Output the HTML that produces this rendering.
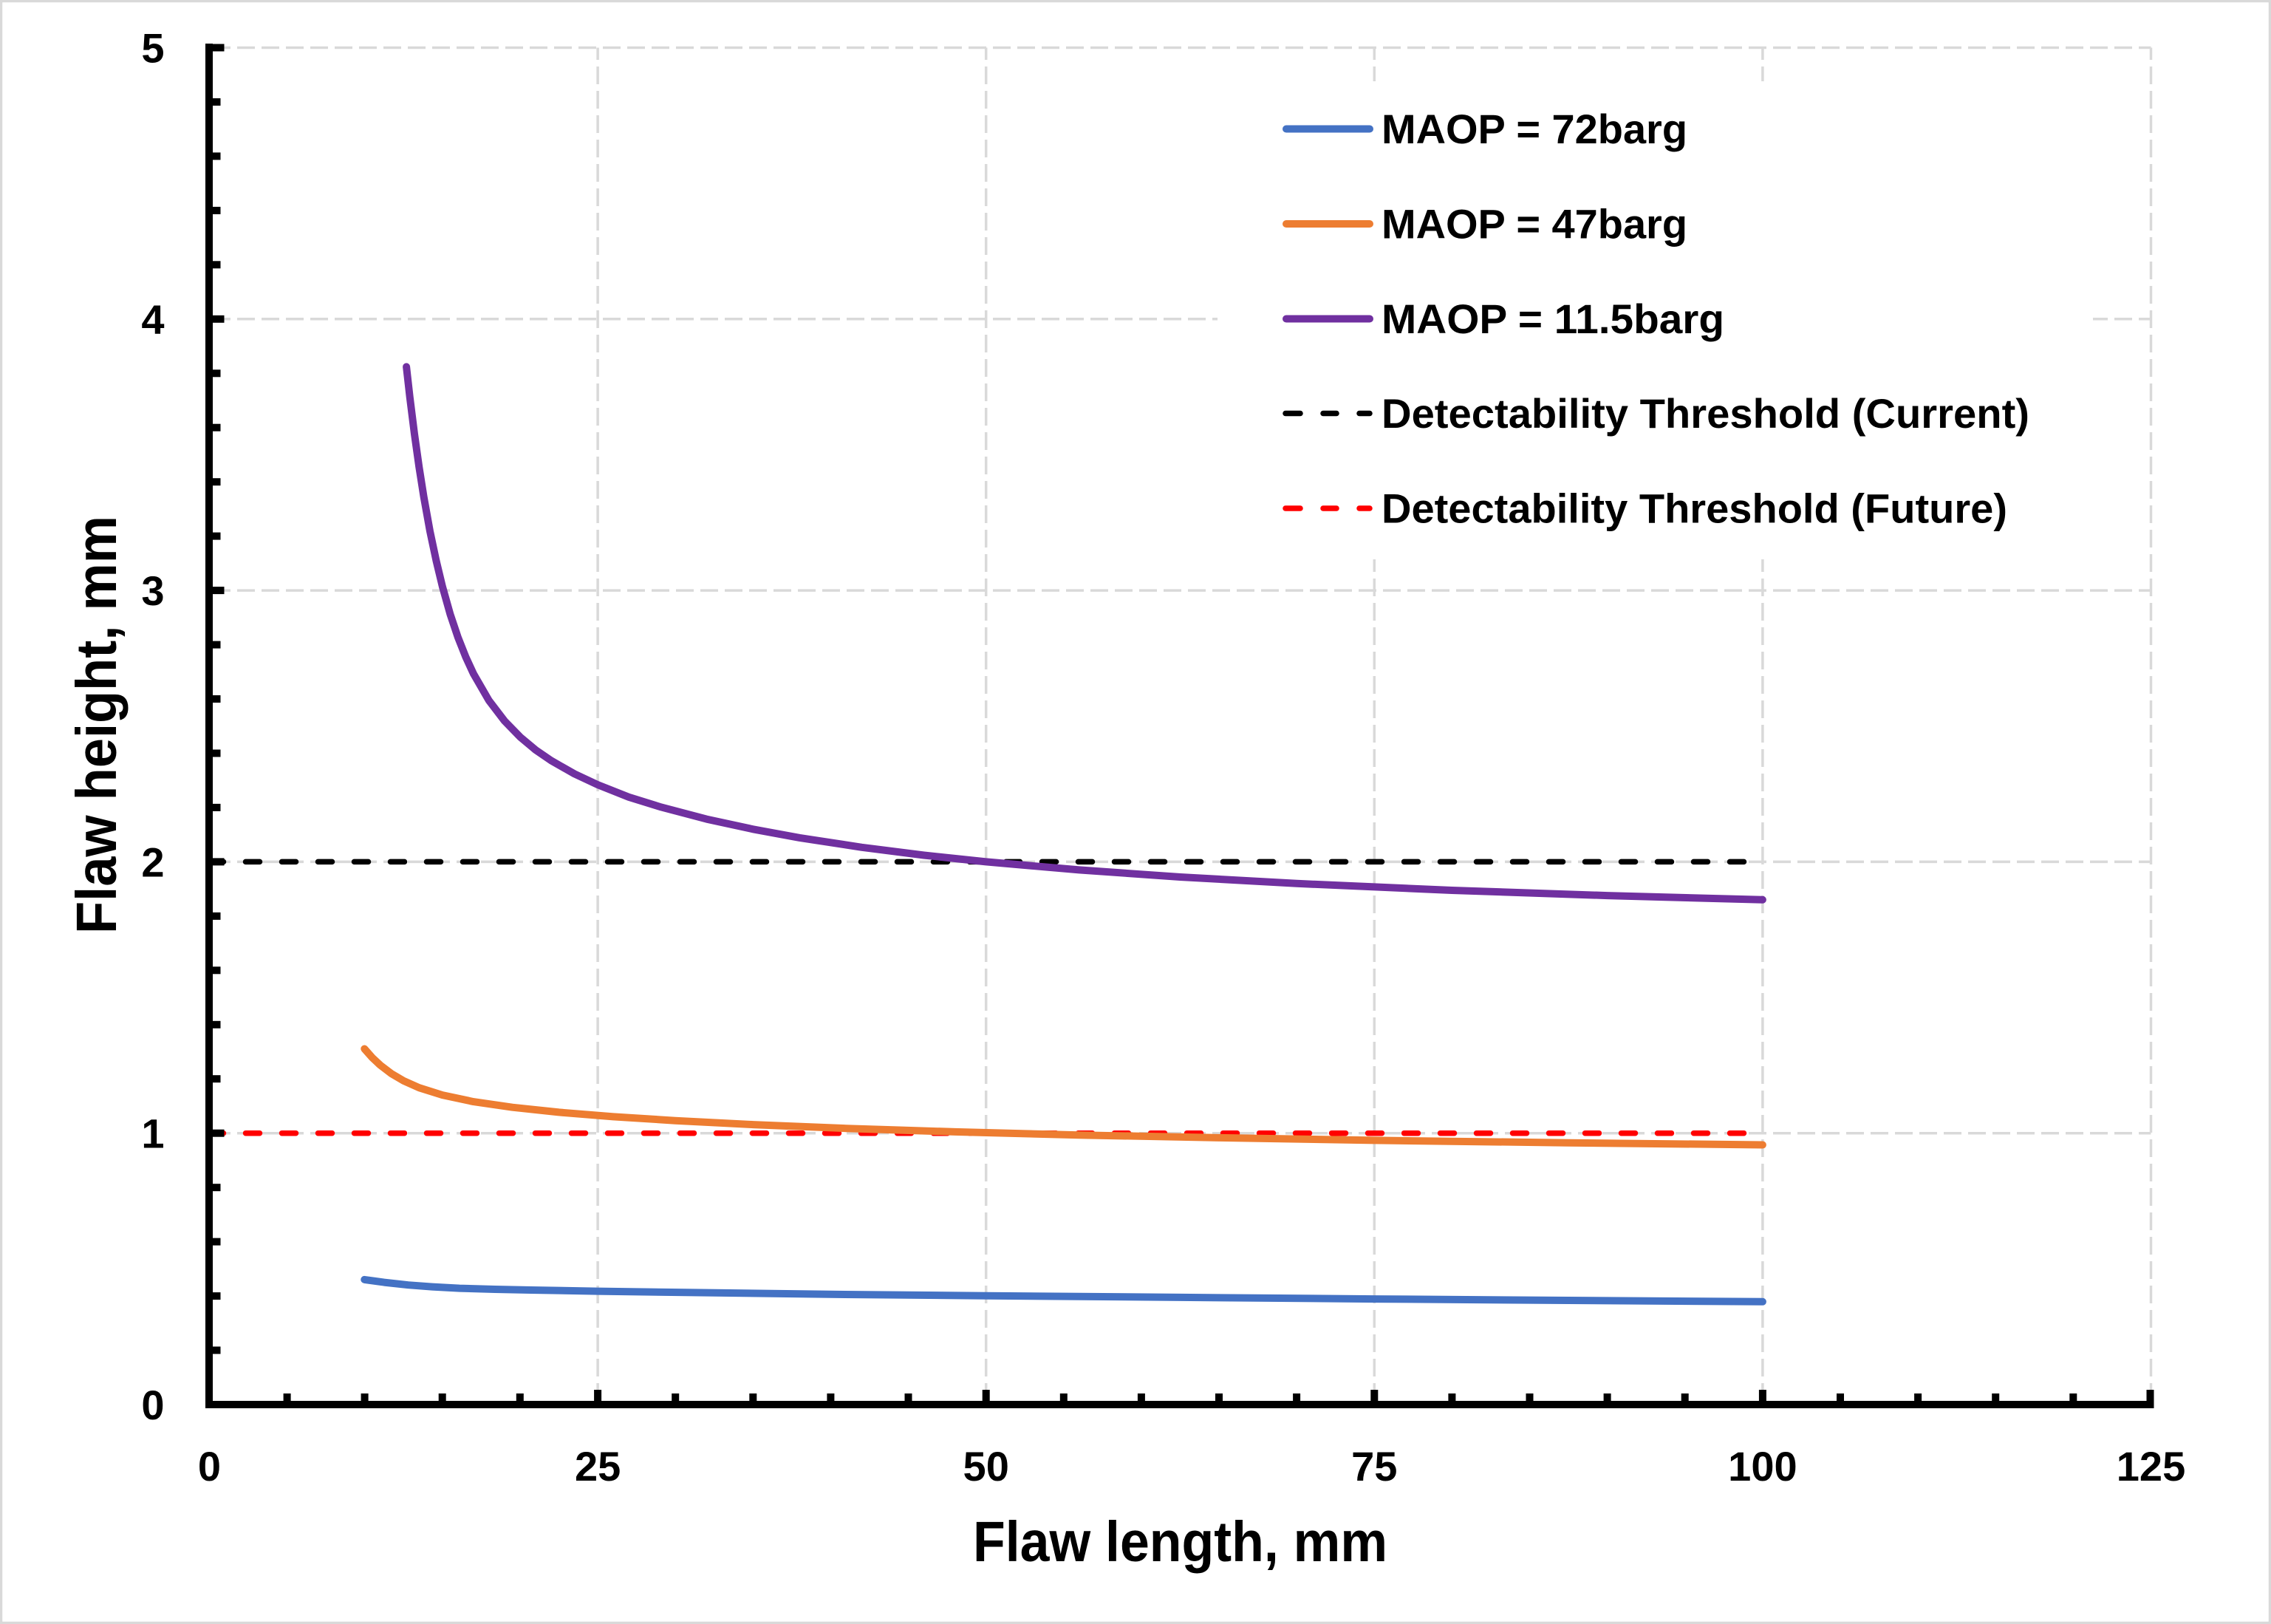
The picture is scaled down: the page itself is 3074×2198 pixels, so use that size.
<!DOCTYPE html>
<html>
<head>
<meta charset="utf-8">
<style>
  html, body { margin: 0; padding: 0; background: #ffffff; }
  svg { display: block; }
  text { font-family: "Liberation Sans", "DejaVu Sans", sans-serif; font-weight: bold; fill: #000; }
</style>
</head>
<body>
<svg width="3074" height="2198" viewBox="0 0 3074 2198" xmlns="http://www.w3.org/2000/svg">
  <!-- background + outer border -->
  <rect x="0" y="0" width="3074" height="2198" fill="#ffffff"/>
  <rect x="1.5" y="1.5" width="3071" height="2195" fill="none" stroke="#d9d9d9" stroke-width="3.5"/>

  <!-- gridlines -->
  <g stroke="#d9d9d9" stroke-width="3.5" stroke-dasharray="24 9" fill="none">
    <line x1="288" y1="64.5" x2="2911.5" y2="64.5"/>
    <line x1="288" y1="431.8" x2="2911.5" y2="431.8"/>
    <line x1="288" y1="799.1" x2="2911.5" y2="799.1"/>
    <line x1="288" y1="1166.4" x2="2911.5" y2="1166.4"/>
    <line x1="288" y1="1533.7" x2="2911.5" y2="1533.7"/>
    <line x1="809.1" y1="1896" x2="809.1" y2="64.5"/>
    <line x1="1334.7" y1="1896" x2="1334.7" y2="64.5"/>
    <line x1="1860.3" y1="1896" x2="1860.3" y2="64.5"/>
    <line x1="2385.9" y1="1896" x2="2385.9" y2="64.5"/>
    <line x1="2911.5" y1="1896" x2="2911.5" y2="64.5"/>
  </g>

  <!-- legend background -->
  <rect x="1648" y="110" width="1185" height="647" fill="#ffffff"/>

  <!-- threshold dashed lines -->
  <line x1="283.5" y1="1166.4" x2="2385.9" y2="1166.4" stroke="#000000" stroke-width="7.5" stroke-dasharray="19 30" stroke-linecap="round"/>
  <line x1="283.5" y1="1533.7" x2="2385.9" y2="1533.7" stroke="#ff0000" stroke-width="7.5" stroke-dasharray="19 30" stroke-linecap="round"/>

  <!-- series -->
  <g fill="none" stroke-width="10" stroke-linecap="round" stroke-linejoin="round">
    <polyline stroke="#4472c4" points="493.3,1731.9 520,1735.6 552.6,1739.2 585,1741.6 622.0,1743.6 670,1745.0 718.7,1746.0 809.1,1747.6 928.9,1749.3 1132.9,1751.9 1334.7,1753.7 1597.5,1755.9 1860.3,1758.1 2123.1,1760.0 2385.9,1761.8"/>
    <polyline stroke="#ed7d31" points="493.3,1419.5 504.3,1431.9 514.8,1441.7 529.5,1452.9 546.3,1462.8 567.3,1472.2 598.9,1482.1 640.9,1491.1 693.5,1498.7 756.5,1505.4 830.1,1511.4 914.2,1516.7 1019.3,1522.1 1145.5,1527.2 1292.7,1531.9 1460.8,1536.2 1650.1,1539.9 1860.3,1543.4 2123.1,1546.7 2385.9,1549.5"/>
    <polyline stroke="#7030a0" points="550.1,496.4 554.7,537.2 561.0,587.5 567.3,632.3 573.6,672.3 582.0,719.0 590.5,759.1 598.9,794.0 609.4,831.4 619.9,862.6 630.4,889.1 640.9,911.9 661.9,948.2 683.0,975.8 704.0,997.4 725.0,1015.0 746.0,1029.4 777.6,1047.4 809.1,1062.1 851.1,1078.8 893.2,1091.9 956.3,1108.6 1019.3,1122.3 1082.4,1133.9 1166.5,1146.8 1250.6,1157.5 1334.7,1166.4 1460.8,1177.4 1597.5,1187.0 1755.2,1195.8 1965.4,1205.0 2175.7,1212.1 2385.9,1217.8"/>
  </g>

  <!-- axes -->
  <g fill="#000000">
    <rect x="278" y="59" width="10" height="1847"/>
    <rect x="278" y="1896" width="2637" height="10"/>
    <!-- y major ticks -->
    <rect x="283" y="59.5" width="20.5" height="10"/>
    <rect x="283" y="426.8" width="20.5" height="10"/>
    <rect x="283" y="794.1" width="20.5" height="10"/>
    <rect x="283" y="1161.4" width="20.5" height="10"/>
    <rect x="283" y="1528.7" width="20.5" height="10"/>
    <!-- y minor ticks (every 0.2) -->
    <rect x="288" y="133" width="10.5" height="10"/>
    <rect x="288" y="206.4" width="10.5" height="10"/>
    <rect x="288" y="279.9" width="10.5" height="10"/>
    <rect x="288" y="353.3" width="10.5" height="10"/>
    <rect x="288" y="500.3" width="10.5" height="10"/>
    <rect x="288" y="573.7" width="10.5" height="10"/>
    <rect x="288" y="647.2" width="10.5" height="10"/>
    <rect x="288" y="720.6" width="10.5" height="10"/>
    <rect x="288" y="867.6" width="10.5" height="10"/>
    <rect x="288" y="941" width="10.5" height="10"/>
    <rect x="288" y="1014.5" width="10.5" height="10"/>
    <rect x="288" y="1087.9" width="10.5" height="10"/>
    <rect x="288" y="1234.9" width="10.5" height="10"/>
    <rect x="288" y="1308.3" width="10.5" height="10"/>
    <rect x="288" y="1381.8" width="10.5" height="10"/>
    <rect x="288" y="1455.2" width="10.5" height="10"/>
    <rect x="288" y="1602.2" width="10.5" height="10"/>
    <rect x="288" y="1675.6" width="10.5" height="10"/>
    <rect x="288" y="1749.1" width="10.5" height="10"/>
    <rect x="288" y="1822.5" width="10.5" height="10"/>
    <!-- x major ticks -->
    <rect x="804.1" y="1881" width="10" height="15"/>
    <rect x="1329.7" y="1881" width="10" height="15"/>
    <rect x="1855.3" y="1881" width="10" height="15"/>
    <rect x="2380.9" y="1881" width="10" height="15"/>
    <rect x="2905.5" y="1881" width="10" height="25"/>
    <!-- x minor ticks (every 5) -->
    <rect x="383.6" y="1886" width="10" height="10"/>
    <rect x="488.6" y="1886" width="10" height="10"/>
    <rect x="593.7" y="1886" width="10" height="10"/>
    <rect x="698.8" y="1886" width="10" height="10"/>
    <rect x="909.2" y="1886" width="10" height="10"/>
    <rect x="1014.3" y="1886" width="10" height="10"/>
    <rect x="1119.4" y="1886" width="10" height="10"/>
    <rect x="1224.5" y="1886" width="10" height="10"/>
    <rect x="1434.8" y="1886" width="10" height="10"/>
    <rect x="1539.9" y="1886" width="10" height="10"/>
    <rect x="1645.0" y="1886" width="10" height="10"/>
    <rect x="1750.1" y="1886" width="10" height="10"/>
    <rect x="1960.4" y="1886" width="10" height="10"/>
    <rect x="2065.5" y="1886" width="10" height="10"/>
    <rect x="2170.6" y="1886" width="10" height="10"/>
    <rect x="2275.7" y="1886" width="10" height="10"/>
    <rect x="2486.0" y="1886" width="10" height="10"/>
    <rect x="2591.1" y="1886" width="10" height="10"/>
    <rect x="2696.2" y="1886" width="10" height="10"/>
    <rect x="2801.3" y="1886" width="10" height="10"/>
  </g>

  <!-- y tick labels -->
  <g font-size="56" text-anchor="middle">
    <text x="207" y="84.5">5</text>
    <text x="207" y="451.8">4</text>
    <text x="207" y="819.1">3</text>
    <text x="207" y="1186.4">2</text>
    <text x="207" y="1553.7">1</text>
    <text x="207" y="1921">0</text>
  </g>

  <!-- x tick labels -->
  <g font-size="56" text-anchor="middle">
    <text x="283.5" y="2004">0</text>
    <text x="809.1" y="2004">25</text>
    <text x="1334.7" y="2004">50</text>
    <text x="1860.3" y="2004">75</text>
    <text x="2385.9" y="2004">100</text>
    <text x="2911.5" y="2004">125</text>
  </g>

  <!-- axis titles -->
  <text x="1317" y="2113" font-size="77" textLength="561" lengthAdjust="spacingAndGlyphs">Flaw length, mm</text>
  <text transform="translate(157,981) rotate(-90)" x="-283" y="0" font-size="77" textLength="566" lengthAdjust="spacingAndGlyphs">Flaw height, mm</text>

  <!-- legend -->
  <g fill="none" stroke-width="10" stroke-linecap="round">
    <line x1="1741" y1="174.5" x2="1854" y2="174.5" stroke="#4472c4"/>
    <line x1="1741" y1="303" x2="1854" y2="303" stroke="#ed7d31"/>
    <line x1="1741" y1="431.5" x2="1854" y2="431.5" stroke="#7030a0"/>
  </g>
  <g fill="none" stroke-width="7.5" stroke-linecap="round">
    <line x1="1740" y1="559.5" x2="1760" y2="559.5" stroke="#000000"/>
    <line x1="1791" y1="559.5" x2="1809" y2="559.5" stroke="#000000"/>
    <line x1="1840" y1="559.5" x2="1854" y2="559.5" stroke="#000000"/>
    <line x1="1740" y1="688" x2="1760" y2="688" stroke="#ff0000"/>
    <line x1="1791" y1="688" x2="1809" y2="688" stroke="#ff0000"/>
    <line x1="1840" y1="688" x2="1854" y2="688" stroke="#ff0000"/>
  </g>
  <g font-size="56">
    <text x="1870" y="194" textLength="414" lengthAdjust="spacingAndGlyphs">MAOP = 72barg</text>
    <text x="1870" y="322.5" textLength="414" lengthAdjust="spacingAndGlyphs">MAOP = 47barg</text>
    <text x="1870" y="451" textLength="464" lengthAdjust="spacingAndGlyphs">MAOP = 11.5barg</text>
    <text x="1870" y="579" textLength="877" lengthAdjust="spacingAndGlyphs">Detectability Threshold (Current)</text>
    <text x="1870" y="707.5" textLength="847" lengthAdjust="spacingAndGlyphs">Detectability Threshold (Future)</text>
  </g>
</svg>
</body>
</html>
